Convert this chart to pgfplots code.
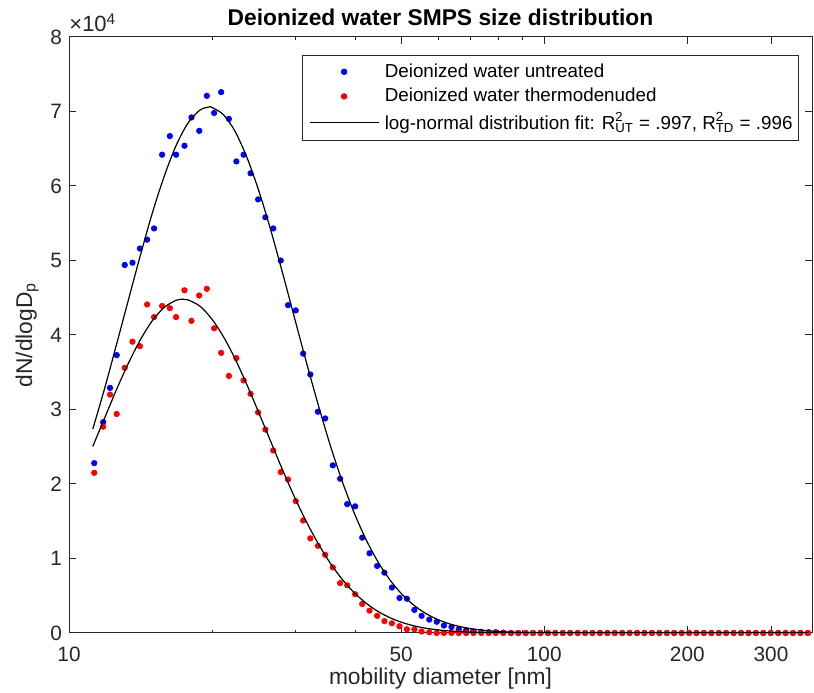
\documentclass[border=0pt]{standalone}
\usepackage{fontspec}
\setmainfont{Liberation Sans}
\usepackage{pgfplots}
\pgfplotsset{compat=1.18}
\usepackage{pgfplotstable}
\definecolor{axgray}{RGB}{38,38,38}
\newcommand{\Rsq}[1]{R\rlap{\textsuperscript{2}}\textsubscript{#1}}
\pgfplotsset{
  dotlegend/.style={legend image code/.code={\path (-2.5pt,0pt); \draw[mark repeat=2,mark phase=2,##1] plot coordinates {(0pt,0pt) (17.25pt,0pt) (34.5pt,0pt)};}},
  linelegend/.style={legend image code/.code={\path (-2.5pt,0pt); \draw[##1] (0pt,0pt) -- (34.5pt,0pt);}},
}

\pgfplotstableread{
D UT TD
11.3 22800 21500
11.8 28300 27700
12.2 32900 32000
12.6 37300 29400
13.1 49400 35600
13.6 49700 39100
14.1 51600 38500
14.6 52800 44100
15.1 54300 42400
15.7 64200 43900
16.3 66700 43600
16.8 64200 42400
17.5 65400 46000
18.1 69200 41900
18.8 67400 45300
19.5 72100 46200
20.2 69800 40900
20.9 72600 37600
21.7 69000 34500
22.5 63300 36900
23.3 64200 33900
24.1 61700 32100
25.0 58200 29600
25.9 55800 27300
26.9 54300 24500
27.9 50000 21600
28.9 44000 20600
30.0 43300 17700
31.1 37500 15100
32.2 34700 12700
33.4 29700 11700
34.6 28800 10500
35.9 22500 8800
37.2 20700 6700
38.5 17300 6400
40.0 17000 5200
41.4 12800 3900
42.9 10700 3000
44.5 9000 2300
46.1 8100 1600
47.8 6100 1300
49.6 4700 900
51.4 4600 500
53.3 3100 500
55.2 2300 200
57.3 1800 100
59.4 1500 0
61.5 1000 0
63.8 800 0
66.1 500 0
68.5 350 0
71.0 200 0
73.7 150 0
76.4 100 0
79.1 100 0
82.0 50 0
85.1 0 0
88.2 0 0
91.4 0 0
94.7 0 0
98.2 0 0
101.8 0 0
105.5 0 0
109.4 0 0
113.4 0 0
117.6 0 0
121.9 0 0
126.3 0 0
131.0 0 0
135.8 0 0
140.7 0 0
145.9 0 0
151.2 0 0
156.8 0 0
162.5 0 0
168.5 0 0
174.7 0 0
181.1 0 0
187.7 0 0
194.6 0 0
201.7 0 0
209.1 0 0
216.7 0 0
224.7 0 0
232.9 0 0
241.4 0 0
250.3 0 0
259.5 0 0
269.0 0 0
278.8 0 0
289.0 0 0
299.6 0 0
310.6 0 0
322.0 0 0
333.8 0 0
346.0 0 0
358.7 0 0
}\smps

\pgfplotstableread{
D F
11.22 27360
11.89 32880
12.59 38740
13.34 44750
14.13 50680
14.96 56280
15.85 61250
16.79 65380
17.78 68400
18.84 70170
19.71 70600
19.95 70570
21.13 69580
22.39 67260
23.71 63740
25.12 59230
26.61 53960
28.18 48190
29.85 42200
31.62 36230
33.50 30490
35.48 25150
37.58 20350
39.81 16140
42.17 12550
44.67 9565
47.32 7150
50.12 5237
53.09 3763
56.23 2650
59.57 1831
63.10 1239
66.83 822
70.79 535
74.99 341
79.43 213
89.13 79
100 27
125.9 2
158.5 0
358.7 0
}\fitUT

\pgfplotstableread{
D F
11.22 25030
11.89 28890
12.59 32680
13.34 36230
14.13 39350
14.96 41880
15.85 43680
16.79 44650
17.35 44800
17.78 44720
18.84 43890
19.95 42210
21.13 39780
22.39 36730
23.71 33240
25.12 29470
26.61 25610
28.18 21810
29.85 18190
31.62 14880
33.50 11920
35.48 9359
37.58 7199
39.81 5425
42.17 4007
44.67 2901
47.32 2059
50.12 1431
53.09 974
56.23 650
59.57 426
63.10 273
70.79 105
79.43 38
100 4
125.9 0
358.7 0
}\fitTD

\begin{document}
\begin{tikzpicture}
\begin{axis}[
  scale only axis, width=371.5pt, height=298pt,
  clip mode=individual,
  xmode=log, xmin=10, xmax=366, ymin=0, ymax=80000,
  xtick={10,50,100,200,300}, xticklabels={10,50,100,200,300},
  minor xtick={20,30,40,60,70,80,90},
  ytick={0,10000,20000,30000,40000,50000,60000,70000,80000},
  yticklabels={0,1,2,3,4,5,6,7,8},
  scaled y ticks=false,
  tick align=inside,
  major tick length=3.6pt, minor tick length=1.5pt,
  axis line style={axgray, line width=0.5pt},
  every tick/.style={axgray, line width=0.5pt},
  tick label style={font=\fontsize{10.4}{12}\selectfont, text=axgray},
  xticklabel style={yshift=-3.5pt},
  title={Deionized water SMPS size distribution},
  every axis title/.style={font=\bfseries\fontsize{11.4}{13}\selectfont, at={(rel axis cs:0.5,1)}, anchor=base, yshift=5.5pt},
  xlabel={mobility diameter [nm]},
  ylabel={dN/dlogD\textsubscript{p}},
  every axis x label/.style={at={(rel axis cs:0.5,0)}, anchor=base, yshift=-26pt, font=\fontsize{11.4}{13}\selectfont, text=axgray},
  every axis y label/.style={at={(rel axis cs:0,0.5)}, rotate=90, anchor=base, yshift=18.5pt, font=\fontsize{11.4}{13}\selectfont, text=axgray},
  legend style={at={(rel axis cs:1,1)}, anchor=north east, xshift=-6.5pt, yshift=-9pt,
    draw=axgray, line width=0.5pt, font=\fontsize{9.4}{11}\selectfont, text=black,
    cells={anchor=west, inner xsep=0.5pt}, inner xsep=1pt, inner ysep=2pt, row sep=0pt, column sep=0.8pt},
  legend cell align=left,
]
\addplot[only marks, mark=*, mark size=1.35pt, color=blue, mark options={fill=blue, draw=none}, dotlegend]
  table[x=D, y=UT] {\smps};
\addlegendentry{Deionized water untreated}
\addplot[only marks, mark=*, mark size=1.35pt, color=red, mark options={fill=red, draw=none}, dotlegend]
  table[x=D, y=TD] {\smps};
\addlegendentry{Deionized water thermodenuded}
\addplot[black, line width=0.6pt, smooth, tension=0.5, linelegend]
  table[x=D, y=F] {\fitUT};
\addlegendentry{log-normal distribution fit: \Rsq{UT} = .997, \Rsq{TD} = .996}
\addplot[black, line width=0.6pt, smooth, tension=0.5, forget plot] table[x=D, y=F] {\fitTD};
\node[anchor=base west, inner sep=0pt, yshift=2.5pt, font=\fontsize{11}{13}\selectfont, text=axgray] at (rel axis cs:0,1) {×10\textsuperscript{4}};
\end{axis}
\pgfresetboundingbox
\path ([xshift=-34.5pt,yshift=-30pt]current axis.south west) rectangle ([xshift=1pt,yshift=18.5pt]current axis.north east);
\end{tikzpicture}
\end{document}
